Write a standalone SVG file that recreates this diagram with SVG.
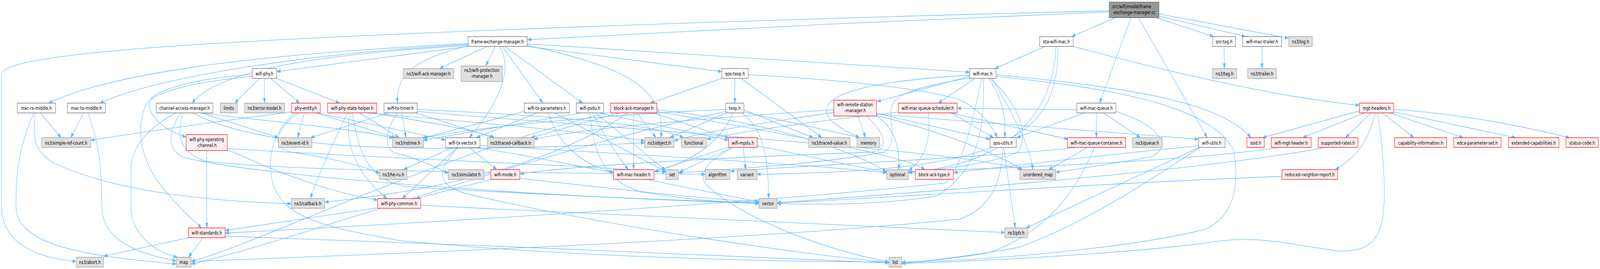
<svg xmlns="http://www.w3.org/2000/svg" width="5500" height="688" viewBox="0 0 5500 688" preserveAspectRatio="none">
<style>
svg{width:100vw;height:100vh}
.e{fill:none;stroke:#63b8ff;stroke-width:1.3;marker-end:url(#ah)}
.w{fill:#ffffff;stroke:#666666;stroke-width:1.3}
.g{fill:#e0e0e0;stroke:#999999;stroke-width:1.3}
.r{fill:#fff0f0;stroke:#ff0000;stroke-width:1.3}
.k{fill:#999999;stroke:#666666;stroke-width:1.3}
text{font-family:"DejaVu Sans","Liberation Sans",sans-serif;font-size:13px;fill:#000000;text-anchor:middle}
</style>
<defs>
<marker id="ah" markerUnits="userSpaceOnUse" markerWidth="14" markerHeight="10" refX="13" refY="4.5" orient="auto">
<path d="M0,0 L13,4.5 L0,9 z" fill="#63b8ff" stroke="#63b8ff" stroke-width="0.8"/>
</marker>
</defs>
<rect x="0" y="0" width="5500" height="688" fill="#ffffff"/>
<g id="edges">
<path class="e" d="M3813,30.3 C3300,46.2 2300,79.1 1813,101.5"/>
<path class="e" d="M3813,27.7 C3000,42.2 1200,81.8 460,125.3 C150,145.1 5,164.8 5,191.2 L5,527.5 C5,619.8 120,659.4 262,668.6"/>
<path class="e" d="M3835,44.8 L3684,93.6"/>
<path class="e" d="M3888,44.8 L3780,263.7"/>
<path class="e" d="M3913,44.8 L4150,352.1"/>
<path class="e" d="M3984,35.6 L4430,97.6"/>
<path class="e" d="M3984,40.9 L4282,93.6"/>
<path class="e" d="M3973,44.8 L4172,93.6"/>
<path class="e" d="M1609,118.7 L951,183.3"/>
<path class="e" d="M1609,110.8 C1100,131.9 450,164.8 167,263.7"/>
<path class="e" d="M1609,113.4 C1100,134.5 560,191.2 343,263.7"/>
<path class="e" d="M1609,116 C1150,137.1 760,171.4 660,263.7"/>
<path class="e" d="M1609,117.4 C1450,145.1 1355,184.6 1367,263.7"/>
<path class="e" d="M1675,118.7 L1510,175.4"/>
<path class="e" d="M1702,118.7 L1670,168.8"/>
<path class="e" d="M1718,118.7 C1770,184.6 1700,276.9 1613,352.1"/>
<path class="e" d="M1727,118.7 L1866,263.7"/>
<path class="e" d="M1735,118.7 L2003,263.7"/>
<path class="e" d="M1812,116 C2150,171.4 2290,224.2 2272,352.1"/>
<path class="e" d="M1812,118.7 L2481,183.3"/>
<path class="e" d="M1812,112.1 L3333,184.6"/>
<path class="e" d="M3593,118.7 L3420,175.4"/>
<path class="e" d="M3689,118.7 C4000,180.7 4400,250.6 4673,269"/>
<path class="e" d="M3630,118.7 C3620,303.3 3450,422 3123,440.4"/>
<path class="e" d="M3636,118.7 C3645,369.2 3400,437.8 2602,445.7"/>
<path class="e" d="M4208,118.7 L4209,175.4"/>
<path class="e" d="M4338,118.7 L4338,175.4"/>
<path class="e" d="M892,200.4 L807,263.7"/>
<path class="e" d="M909,200.4 L909,263.7"/>
<path class="e" d="M930,200.4 L1030,263.7"/>
<path class="e" d="M950,200.4 L1168,263.7"/>
<path class="e" d="M867,191.2 C700,197.8 560,224.2 520,250.6 C495,283.5 545,327 640,350.8"/>
<path class="e" d="M867,195.2 C650,211 520,237.4 500,270.3 C470,323.1 480,395.6 540,461.5 C600,520.9 650,553.9 693,582.9"/>
<path class="e" d="M603,288.8 C520,323.1 450,369.2 450,435.2 L450,527.5 C450,600 530,643.5 610,658"/>
<path class="e" d="M622,288.8 C570,342.9 575,395.6 650,406.2 C1000,461.5 2000,507.7 2609,519.6"/>
<path class="e" d="M628,288.8 C610,342.9 610,382.4 700,411.4 C1000,441.8 2000,441.8 2424,445.7"/>
<path class="e" d="M662,288.8 C900,382.4 1400,395.6 2216,365.3"/>
<path class="e" d="M693,288.8 L957,352.1"/>
<path class="e" d="M687,288.8 C1000,316.5 1250,332.3 1352,353.4"/>
<path class="e" d="M1046,288.8 L1023,352.1"/>
<path class="e" d="M1087,288.8 L1360,352.1"/>
<path class="e" d="M1002,286.2 C800,305.9 500,336.3 312,358.7"/>
<path class="e" d="M1090,288.8 L1531,357.4"/>
<path class="e" d="M1025,288.8 C960,323.1 920,375.8 1000,389 C1150,406.2 1250,424.6 1305,443.1"/>
<path class="e" d="M1015,288.8 C935,336.3 915,408.8 940,474.7 C980,553.9 1100,580.2 1380,615.8 C2000,659.4 2700,669.9 3056,669.9"/>
<path class="e" d="M1195,288.8 C1150,356 1100,435.2 1067,507.7"/>
<path class="e" d="M1203,288.8 C1185,356 1210,435.2 1330,507.7"/>
<path class="e" d="M1212,288.8 C1230,382.4 1260,461.5 1400,477.4 C1900,501.1 2400,514.3 2609,518.3"/>
<path class="e" d="M1237,288.8 L1372,352.1"/>
<path class="e" d="M1263,288.8 C1600,309.9 2000,336.3 2216,360"/>
<path class="e" d="M1280,288.8 C1450,309.9 1620,329.7 1700,352.1"/>
<path class="e" d="M1335,288.8 L1068,352.1"/>
<path class="e" d="M1382,288.8 L1395,352.1"/>
<path class="e" d="M1430,288.8 L1697,352.1"/>
<path class="e" d="M1367,288.8 C1320,336.3 1320,382.4 1360,391.7 C1450,408.8 1500,428.6 1541,443.1"/>
<path class="e" d="M1434,279.6 C1900,296.7 2250,316.5 2350,352.1"/>
<path class="e" d="M1434,284.8 C2000,323.1 3300,382.4 3512,433.9"/>
<path class="e" d="M1845,288.8 L1637,352.1"/>
<path class="e" d="M1885,288.8 C1920,369.2 2000,422 2109,440.4"/>
<path class="e" d="M1802,284.8 L1452,353.4"/>
<path class="e" d="M1907,288.8 L2289,439.1"/>
<path class="e" d="M1613,377.1 L1708,433.9"/>
<path class="e" d="M1572,377.1 L1383,507.7"/>
<path class="e" d="M1555,377.1 L1387,433.9"/>
<path class="e" d="M1575,377.1 C1500,435.2 1500,474.7 1600,494.5 C2000,567 2700,646.2 3056,671.2"/>
<path class="e" d="M1640,377.1 C2000,422 2400,487.9 2609,515.6"/>
<path class="e" d="M1650,371.9 C2200,395.6 2800,422 3048,441.8"/>
<path class="e" d="M1690,458.9 L1430,507.7"/>
<path class="e" d="M1787,456.3 C2100,481.3 2400,507.7 2609,516.9"/>
<path class="e" d="M1298,531.4 L774,589.5"/>
<path class="e" d="M1446,524.8 C2200,553.9 3000,580.2 3454,594.7"/>
<path class="e" d="M698,607.9 L648,658"/>
<path class="e" d="M648,607.9 L356,655.4"/>
<path class="e" d="M774,604 C1500,619.8 2600,659.4 3056,672.5"/>
<path class="e" d="M138,288.8 L210,352.1"/>
<path class="e" d="M117,288.8 C60,382.4 55,448.4 55,527.5 C55,619.8 250,652.8 606,675.2"/>
<path class="e" d="M121,288.8 C110,356 120,395.6 200,422 C400,487.9 700,514.3 1001,520.9"/>
<path class="e" d="M287,288.8 L243,352.1"/>
<path class="e" d="M303,288.8 C340,369.2 350,422 350,527.5 C350,606.6 450,646.2 606,667.3"/>
<path class="e" d="M711,385.1 L711,582.9"/>
<path class="e" d="M781,382.4 C900,422 1100,487.9 1298,511.7"/>
<path class="e" d="M781,379.8 C1400,408.8 2000,422 2289,440.4"/>
<path class="e" d="M1995,288.8 L1456,358.7"/>
<path class="e" d="M2028,288.8 C2040,395.6 2080,461.5 2200,490.6 C2400,514.3 2500,516.9 2609,520.9"/>
<path class="e" d="M2037,288.8 C2080,349.5 2120,395.6 2160,433.9"/>
<path class="e" d="M2047,288.8 L2287,435.2"/>
<path class="e" d="M2062,288.8 L2504,358.7"/>
<path class="e" d="M2127,288.8 L1825,352.1"/>
<path class="e" d="M2178,288.8 L2178,433.9"/>
<path class="e" d="M2190,288.8 L2255,352.1"/>
<path class="e" d="M2158,288.8 C1900,422 1500,487.9 1116,516.9"/>
<path class="e" d="M2258,280.9 C2700,316.5 2950,395.6 3048,439.1"/>
<path class="e" d="M2245,288.8 L2506,353.4"/>
<path class="e" d="M2099,286.2 C1500,395.6 900,619.8 657,668.6"/>
<path class="e" d="M2258,284.8 C2700,342.9 3100,395.6 3180,433.9"/>
<path class="e" d="M2497,288.8 L2303,352.1"/>
<path class="e" d="M2552,288.8 C2620,329.7 2642,395.6 2642,507.7"/>
<path class="e" d="M2495,279.6 C2000,296.7 1600,329.7 1456,353.4"/>
<path class="e" d="M2557,280.9 L2795,352.1"/>
<path class="e" d="M2557,286.2 L2956,352.1"/>
<path class="e" d="M2520,288.8 C2480,356 2400,408.8 2248,439.1"/>
<path class="e" d="M2495,284.8 C1800,395.6 1000,619.8 657,675.2"/>
<path class="e" d="M2526,200.4 L2526,263.7"/>
<path class="e" d="M2481,200.4 L2235,263.7"/>
<path class="e" d="M2572,191.2 C2900,204.4 3250,230.8 3320,263.7 C3380,290.1 3410,323.1 3428,352.1"/>
<path class="e" d="M2548,200.4 L2825,352.1"/>
<path class="e" d="M3352,200.4 L3225,263.7"/>
<path class="e" d="M3333,195.2 L3015,259.8"/>
<path class="e" d="M3333,192.5 C2900,211 2790,257.1 2860,309.9 C2890,329.7 2920,340.2 2955,352.1"/>
<path class="e" d="M3398,200.4 C3445,250.6 3460,303.3 3453,352.1"/>
<path class="e" d="M3424,191.2 C3900,224.2 4200,263.7 4300,352.1"/>
<path class="e" d="M3424,195.2 C3800,224.2 4150,263.7 4240,382.4 C4260,461.5 4250,553.9 4140,586.8 C3900,633 3400,665.9 3099,671.2"/>
<path class="e" d="M3333,199.1 C3150,224.2 3060,237.4 3062,290.1 C3065,329.7 3080,369.2 3040,389 C2800,422 2450,435.2 2332,441.8"/>
<path class="e" d="M3402,200.4 C3500,263.7 3540,342.9 3500,389 C3400,422 3200,435.2 3122,441.8"/>
<path class="e" d="M3380,200.4 C3385,316.5 3370,435.2 3220,501.1 C3000,527.5 2800,522.2 2671,520.9"/>
<path class="e" d="M3375,200.4 C3340,316.5 3310,422 3250,468.1 C2500,527.5 1200,580.2 774,596"/>
<path class="e" d="M3410,200.4 C3480,290.1 3540,369.2 3550,433.9"/>
<path class="e" d="M2950,296.7 L2975,352.1"/>
<path class="e" d="M3013,296.7 C3080,329.7 3092,382.4 3090,433.9"/>
<path class="e" d="M2978,296.7 C3040,336.3 3060,382.4 3000,389 C2500,402.2 2000,422 1787,444.4"/>
<path class="e" d="M2866,280.9 C2400,303.3 2000,329.7 1836,356"/>
<path class="e" d="M3013,290.1 L3403,356"/>
<path class="e" d="M3013,291.4 C3400,316.5 3800,336.3 4120,356"/>
<path class="e" d="M3013,295.4 C3200,329.7 3400,382.4 3515,433.9"/>
<path class="e" d="M2866,287.5 C2600,316.5 2400,340.2 2317,360"/>
<path class="e" d="M3192,288.8 C3200,356 3180,408.8 3123,435.2"/>
<path class="e" d="M3270,288.8 L3415,352.1"/>
<path class="e" d="M3267,288.8 L3672,356"/>
<path class="e" d="M3093,286.2 C2800,309.9 2550,336.3 2430,356"/>
<path class="e" d="M3769,288.8 L3769,352.1"/>
<path class="e" d="M3793,288.8 L3920,352.1"/>
<path class="e" d="M3702,280.9 C3500,279.6 3350,276.9 3290,276.9"/>
<path class="e" d="M3727,288.8 L3495,352.1"/>
<path class="e" d="M3836,284.8 C4000,323.1 4030,382.4 3950,402.2 C3800,422 3700,432.5 3629,440.4"/>
<path class="e" d="M3762,377.1 C3700,487.9 3600,593.4 3400,646.2 C3250,665.9 3150,669.9 3099,671.2"/>
<path class="e" d="M3738,377.1 L3605,433.9"/>
<path class="e" d="M3700,377.1 C3400,402.2 2800,422 2510,437.8"/>
<path class="e" d="M4122,377.1 L3527,582.9"/>
<path class="e" d="M4125,377.1 C3900,487.9 3700,580.2 3500,633 C3300,659.4 3150,669.9 3099,673.9"/>
<path class="e" d="M4120,373.2 C3800,395.6 3500,422 3278,441.8"/>
<path class="e" d="M4713,288.8 L4625,352.1"/>
<path class="e" d="M4752,288.8 L4860,352.1"/>
<path class="e" d="M4778,288.8 L5030,352.1"/>
<path class="e" d="M4791,286.2 L5210,352.1"/>
<path class="e" d="M4791,279.6 C5000,290.1 5200,316.5 5395,352.1"/>
<path class="e" d="M4690,288.8 L4478,352.1"/>
<path class="e" d="M4673,283.5 L4340,352.1"/>
<path class="e" d="M4728,288.8 C4700,369.2 4660,402.2 4590,433.9"/>
<path class="e" d="M4735,288.8 C4760,395.6 4760,501.1 4757,527.5 C4750,619.8 4700,643.5 4600,642.2 C4400,619.8 4300,600 4140,622.4 C3800,652.8 3300,669.9 3099,673.9"/>
<path class="e" d="M4397,377.1 C4100,411.4 3500,428.6 3122,439.1"/>
<path class="e" d="M4557,377.1 C4100,441.8 3000,501.1 2671,518.3"/>
<path class="e" d="M4407,451 C3800,468.1 3000,507.7 2671,519.6"/>
<path class="e" d="M2555,377.1 L2563,433.9"/>
<path class="e" d="M2513,378.5 L2335,440.4"/>
<path class="e" d="M2517,378.5 C2420,415.4 2400,448.4 2430,474.7 C2550,553.9 2800,633 3056,669.9"/>
<path class="e" d="M2504,375.8 L2250,439.1"/>
<path class="e" d="M2603,373.2 C2800,402.2 2950,428.6 3048,439.1"/>
<path class="e" d="M3450,377.1 L3490,582.9"/>
<path class="e" d="M3447,377.1 C3445,448.4 3420,527.5 3300,560.4 C2500,619.8 1200,652.8 657,668.6"/>
</g>
<g id="root"><rect class="k" x="3813" y="5.3" width="171" height="40"/><text x="3824" y="21.5" style="text-anchor:start">src/wifi/model/frame</text><text x="3898.5" y="36.5">-exchange-manager.cc</text></g>
<g id="fem"><rect class="w" x="1609" y="93.6" width="203" height="25"/><text x="1710.5" y="111.2">frame-exchange-manager.h</text></g>
<g id="sta"><rect class="w" x="3574" y="93.6" width="115" height="25"/><text x="3631.5" y="111.2">sta-wifi-mac.h</text></g>
<g id="snr"><rect class="w" x="4169" y="93.6" width="78" height="25"/><text x="4208" y="111.2">snr-tag.h</text></g>
<g id="trailer"><rect class="w" x="4272" y="93.6" width="133" height="25"/><text x="4338.5" y="111.2">wifi-mac-trailer.h</text></g>
<g id="log"><rect class="g" x="4430" y="93.6" width="81" height="25"/><text x="4470.5" y="111.2">ns3/log.h</text></g>
<g id="wifiphy"><rect class="w" x="867" y="175.4" width="84" height="25"/><text x="909" y="193">wifi-phy.h</text></g>
<g id="ackmgr"><rect class="g" x="1386" y="175.4" width="174" height="25"/><text x="1473" y="193">ns3/wifi-ack-manager.h</text></g>
<g id="protmgr"><rect class="g" x="1585" y="168.8" width="142" height="39.6"/><text x="1656" y="184.5">ns3/wifi-protection</text><text x="1656" y="199.5">-manager.h</text></g>
<g id="qostxop"><rect class="w" x="2481" y="175.4" width="91" height="25"/><text x="2526.5" y="193">qos-txop.h</text></g>
<g id="wifimac"><rect class="w" x="3333" y="175.4" width="91" height="25"/><text x="3378.5" y="193">wifi-mac.h</text></g>
<g id="tag"><rect class="g" x="4168" y="175.4" width="83" height="25"/><text x="4209.5" y="193">ns3/tag.h</text></g>
<g id="ns3trailer"><rect class="g" x="4289" y="175.4" width="99" height="25"/><text x="4338.5" y="193">ns3/trailer.h</text></g>
<g id="macrx"><rect class="w" x="59" y="263.7" width="132" height="25"/><text x="125" y="281.2">mac-rx-middle.h</text></g>
<g id="mactx"><rect class="w" x="232" y="263.7" width="130" height="25"/><text x="297" y="281.2">mac-tx-middle.h</text></g>
<g id="cam"><rect class="w" x="537" y="263.7" width="195" height="25"/><text x="634.5" y="281.2">channel-access-manager.h</text></g>
<g id="limits"><rect class="g" x="757" y="263.7" width="59" height="25"/><text x="786.5" y="281.2">limits</text></g>
<g id="errmodel"><rect class="g" x="841" y="263.7" width="137" height="25"/><text x="909.5" y="281.2">ns3/error-model.h</text></g>
<g id="phyentity"><rect class="r" x="1002" y="263.7" width="99" height="25"/><text x="1051.5" y="281.2">phy-entity.h</text></g>
<g id="psh"><rect class="r" x="1126" y="263.7" width="169" height="25"/><text x="1210.5" y="281.2">wifi-phy-state-helper.h</text></g>
<g id="txtimer"><rect class="w" x="1320" y="263.7" width="114" height="25"/><text x="1377" y="281.2">wifi-tx-timer.h</text></g>
<g id="txparams"><rect class="w" x="1802" y="263.7" width="155" height="25"/><text x="1879.5" y="281.2">wifi-tx-parameters.h</text></g>
<g id="psdu"><rect class="w" x="1981" y="263.7" width="94" height="25"/><text x="2028" y="281.2">wifi-psdu.h</text></g>
<g id="bam"><rect class="r" x="2099" y="263.7" width="159" height="25"/><text x="2178.5" y="281.2">block-ack-manager.h</text></g>
<g id="txop"><rect class="w" x="2495" y="263.7" width="62" height="25"/><text x="2526" y="281.2">txop.h</text></g>
<g id="wrsm"><rect class="r" x="2866" y="256.2" width="147" height="40.5"/><text x="2939.5" y="272.5">wifi-remote-station</text><text x="2939.5" y="287.5">-manager.h</text></g>
<g id="wmqs"><rect class="r" x="3088" y="263.7" width="202" height="25"/><text x="3189" y="281.2">wifi-mac-queue-scheduler.h</text></g>
<g id="wmq"><rect class="w" x="3702" y="263.7" width="134" height="25"/><text x="3769" y="281.2">wifi-mac-queue.h</text></g>
<g id="mgt"><rect class="r" x="4673" y="263.7" width="118" height="25"/><text x="4732" y="281.2">mgt-headers.h</text></g>
<g id="simpleref"><rect class="g" x="143" y="352.1" width="169" height="25"/><text x="227.5" y="369.6">ns3/simple-ref-count.h</text></g>
<g id="wpoc"><rect class="r" x="640" y="344.2" width="141" height="40.9"/><text x="710.5" y="361">wifi-phy-operating</text><text x="710.5" y="376">-channel.h</text></g>
<g id="eventid"><rect class="g" x="957" y="352.1" width="115" height="25"/><text x="1014.5" y="369.6">ns3/event-id.h</text></g>
<g id="nstime"><rect class="g" x="1349" y="352.1" width="107" height="25"/><text x="1402.5" y="369.6">ns3/nstime.h</text></g>
<g id="txvector"><rect class="w" x="1531" y="352.1" width="119" height="25"/><text x="1590.5" y="369.6">wifi-tx-vector.h</text></g>
<g id="tracedcb"><rect class="g" x="1675" y="352.1" width="161" height="25"/><text x="1755.5" y="369.6">ns3/traced-callback.h</text></g>
<g id="object"><rect class="g" x="2216" y="352.1" width="101" height="25"/><text x="2266.5" y="369.6">ns3/object.h</text></g>
<g id="functional"><rect class="g" x="2342" y="352.1" width="86" height="25"/><text x="2385" y="369.6">functional</text></g>
<g id="mpdu"><rect class="r" x="2504" y="352.1" width="99" height="25"/><text x="2553.5" y="369.6">wifi-mpdu.h</text></g>
<g id="tracedval"><rect class="g" x="2780" y="352.1" width="142" height="25"/><text x="2851" y="369.6">ns3/traced-value.h</text></g>
<g id="memory"><rect class="g" x="2946" y="352.1" width="78" height="25"/><text x="2985" y="369.6">memory</text></g>
<g id="qosutils"><rect class="w" x="3403" y="352.1" width="90" height="25"/><text x="3448" y="369.6">qos-utils.h</text></g>
<g id="wmqc"><rect class="r" x="3669" y="352.1" width="200" height="25"/><text x="3769" y="369.6">wifi-mac-queue-container.h</text></g>
<g id="queue"><rect class="g" x="3893" y="352.1" width="102" height="25"/><text x="3944" y="369.6">ns3/queue.h</text></g>
<g id="wutils"><rect class="w" x="4120" y="352.1" width="91" height="25"/><text x="4165.5" y="369.6">wifi-utils.h</text></g>
<g id="ssid"><rect class="r" x="4286" y="352.1" width="60" height="25"/><text x="4316" y="369.6">ssid.h</text></g>
<g id="wmgt"><rect class="r" x="4370" y="352.1" width="137" height="25"/><text x="4438.5" y="369.6">wifi-mgt-header.h</text></g>
<g id="suprates"><rect class="r" x="4531" y="352.1" width="137" height="25"/><text x="4599.5" y="369.6">supported-rates.h</text></g>
<g id="capinfo"><rect class="r" x="4794" y="352.1" width="179" height="25"/><text x="4883.5" y="369.6">capability-information.h</text></g>
<g id="edca"><rect class="r" x="4997" y="352.1" width="163" height="25"/><text x="5078.5" y="369.6">edca-parameter-set.h</text></g>
<g id="extcap"><rect class="r" x="5185" y="352.1" width="174" height="25"/><text x="5272" y="369.6">extended-capabilities.h</text></g>
<g id="status"><rect class="r" x="5383" y="352.1" width="111" height="25"/><text x="5438.5" y="369.6">status-code.h</text></g>
<g id="heru"><rect class="g" x="1305" y="433.9" width="94" height="25"/><text x="1352" y="451.4">ns3/he-ru.h</text></g>
<g id="simulator"><rect class="g" x="1541" y="433.9" width="123" height="25"/><text x="1602.5" y="451.4">ns3/simulator.h</text></g>
<g id="wifimode"><rect class="r" x="1687" y="433.9" width="100" height="25"/><text x="1737" y="451.4">wifi-mode.h</text></g>
<g id="wmh"><rect class="r" x="2109" y="433.9" width="139" height="25"/><text x="2178.5" y="451.4">wifi-mac-header.h</text></g>
<g id="set"><rect class="g" x="2289" y="433.9" width="43" height="25"/><text x="2310.5" y="451.4">set</text></g>
<g id="algorithm"><rect class="g" x="2424" y="433.9" width="85" height="25"/><text x="2466.5" y="451.4">algorithm</text></g>
<g id="variant"><rect class="g" x="2534" y="433.9" width="68" height="25"/><text x="2568" y="451.4">variant</text></g>
<g id="optional"><rect class="g" x="3048" y="433.9" width="74" height="25"/><text x="3085" y="451.4">optional</text></g>
<g id="bat"><rect class="r" x="3146" y="433.9" width="131" height="25"/><text x="3211.5" y="451.4">block-ack-type.h</text></g>
<g id="umap"><rect class="g" x="3506" y="433.9" width="123" height="25"/><text x="3567.5" y="451.4">unordered_map</text></g>
<g id="rnr"><rect class="r" x="4407" y="433.9" width="191" height="25"/><text x="4502.5" y="451.4">reduced-neighbor-report.h</text></g>
<g id="callback"><rect class="g" x="1001" y="507.7" width="115" height="25"/><text x="1058.5" y="525.2">ns3/callback.h</text></g>
<g id="phycommon"><rect class="r" x="1298" y="507.7" width="148" height="25"/><text x="1372" y="525.2">wifi-phy-common.h</text></g>
<g id="vector"><rect class="g" x="2609" y="507.7" width="62" height="25"/><text x="2640" y="525.2">vector</text></g>
<g id="standards"><rect class="r" x="648" y="582.9" width="126" height="25"/><text x="711" y="600.4">wifi-standards.h</text></g>
<g id="ptr"><rect class="g" x="3454" y="582.9" width="78" height="25"/><text x="3493" y="600.4">ns3/ptr.h</text></g>
<g id="abort"><rect class="g" x="262" y="658" width="94" height="25"/><text x="309" y="675.5">ns3/abort.h</text></g>
<g id="map"><rect class="g" x="606" y="658" width="51" height="25"/><text x="631.5" y="675.5">map</text></g>
<g id="list"><rect class="g" x="3056" y="658" width="43" height="25"/><text x="3077.5" y="675.5">list</text></g>
</svg>
